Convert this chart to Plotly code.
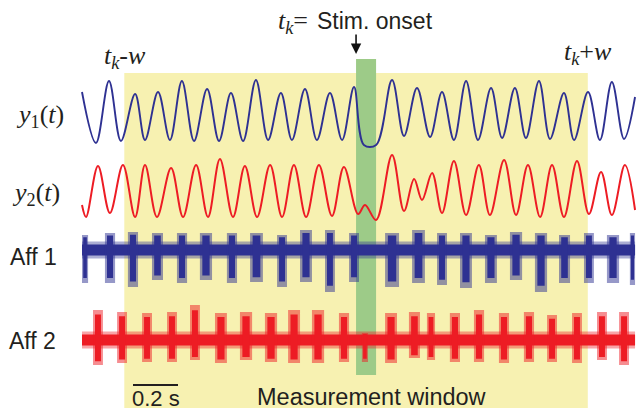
import plotly.graph_objects as go

# ---------------- data (time in ms, amplitudes in arbitrary units) ----------------
# y1(t): extrema of the blue oscillation
y1_t = [0, 62, 120, 173, 236, 280, 338, 391, 444, 498, 556, 609, 662, 716, 773, 827, 884, 933, 991, 1044,
        1102, 1156, 1209, 1253, 1307, 1378, 1431, 1489, 1547, 1600, 1653, 1707, 1760, 1818, 1867, 1924, 1973,
        2031, 2080, 2142, 2187, 2249, 2302, 2355, 2409, 2458]
y1_v = [20, -31, 31, -29, 18, -28, 20, -28, 31, -29, 23, -29, 19, -29, 32, -28, 19, -28, 23, -28,
        19, -28, 25, -33, -33, 32, -24, 24, -25, 20, -28, 31, -28, 24, -26, 24, -26,
        31, -27, 19, -28, 20, -28, 30, -27, 15]

# y2(t): extrema of the red oscillation
y2_t = [0, 18, 71, 124, 182, 236, 280, 333, 396, 449, 507, 560, 613, 671, 724, 778, 836, 889, 942, 996,
        1053, 1111, 1164, 1227, 1258, 1307, 1378, 1431, 1476, 1511, 1556, 1600, 1653, 1707, 1764, 1813,
        1876, 1929, 1982, 2036, 2089, 2142, 2200, 2253, 2307, 2355, 2413, 2458]
y2_v = [-14, -26, 25, -22, 26, -26, 26, -26, 23, -26, 26, -26, 32, -26, 25, -26, 26, -26, 26, -26,
        26, -25, 24, -23, -14, -29, 36, -20, 12, -9, 18, -22, 30, -24, 26, -24,
        31, -24, 26, -26, 26, -26, 30, -23, 19, -24, 26, -19]

# Afferent recordings: background noise amplitude and spike bursts
record_end = 2458
aff_noise_core = 5.5
aff_noise_fringe = 8.5

aff1_start = [0, 102, 204, 311, 422, 524, 644, 747, 867, 969, 1080, 1187, 1347, 1467, 1578, 1680, 1791,
              1902, 2013, 2120, 2231, 2333, 2435]
aff1_end = [27, 147, 249, 360, 467, 578, 689, 804, 911, 1022, 1124, 1231, 1409, 1524, 1622, 1733, 1844,
            1956, 2067, 2169, 2275, 2387, 2458]
aff1_up = [15, 17, 18, 17, 17, 17, 17, 17, 15, 20, 20, 17, 17, 20, 17, 17, 15, 18, 17, 15, 17, 15, 17]
aff1_down = [-33, -33, -37, -30, -33, -30, -33, -32, -37, -32, -42, -32, -37, -33, -35, -38, -33, -30,
             -42, -33, -33, -33, -35]

aff2_start = [49, 156, 267, 378, 480, 591, 702, 813, 916, 1022, 1142, 1244, 1347, 1453, 1533, 1635, 1742,
              1853, 1964, 2067, 2178, 2289, 2387]
aff2_end = [93, 200, 311, 422, 524, 644, 756, 867, 969, 1076, 1187, 1271, 1400, 1502, 1569, 1680, 1787,
            1898, 2009, 2111, 2222, 2333, 2431]
aff2_up = [30, 28, 27, 28, 35, 27, 28, 27, 30, 30, 27, 7, 27, 28, 27, 27, 30, 27, 28, 25, 27, 28, 28]
aff2_down = [-25, -23, -22, -22, -20, -23, -20, -22, -23, -23, -22, -22, -23, -18, -20, -22, -22, -23,
             -22, -22, -23, -20, -25]

stim_onset = 1218      # t_k
stim_duration = 89
window_half = 1030     # w
scale_bar_ms = 200

# ---------------- layout helpers ----------------
W, H = 637, 411
PX_PER_MS = 0.225
T0_PX = 82


def X(px):
    return (px - T0_PX) / PX_PER_MS


def Y(py):
    return H - py


BLUE = "#2E3192"
RED = "#ED1C24"
BLUE_LIGHT = "rgba(46,49,146,0.5)"
RED_LIGHT = "rgba(237,28,36,0.5)"
BLUE_FAINT = "rgba(46,49,146,0.4)"
RED_FAINT = "rgba(237,28,36,0.4)"
TXT = "#231F20"
SANS = "Liberation Sans, Arial, sans-serif"
SERIF = "Liberation Serif, Times New Roman, serif"

base_y1, base_y2, base_a1, base_a2 = Y(112), Y(191), Y(250), Y(340)

fig = go.Figure()

# oscillations
fig.add_trace(go.Scatter(x=y1_t, y=[base_y1 + v for v in y1_v], mode="lines",
                         line=dict(color=BLUE, width=1.9, shape="spline", smoothing=1.0),
                         hoverinfo="skip"))
fig.add_trace(go.Scatter(x=y2_t, y=[base_y2 + v for v in y2_v], mode="lines",
                         line=dict(color=RED, width=2.0, shape="spline", smoothing=1.0),
                         hoverinfo="skip"))


def rects(starts, ends, ups, downs, base, wfrac=1.0, hfrac=1.0):
    xs, ys = [], []
    for a, b, u, d in zip(starts, ends, ups, downs):
        m = (a + b) / 2.0
        hw = (b - a) / 2.0 * wfrac
        lo, hi = base + d * hfrac, base + u * hfrac
        xs += [m - hw, m + hw, m + hw, m - hw, m - hw, None]
        ys += [lo, lo, hi, hi, lo, None]
    return xs, ys


def add_aff(starts, ends, ups, downs, base, col, col_light, col_faint):
    # noise band
    for amp, c in ((aff_noise_fringe, col_faint), (aff_noise_core, col)):
        xs, ys = rects([0], [record_end], [amp], [-amp], base)
        fig.add_trace(go.Scatter(x=xs, y=ys, mode="lines", fill="toself", fillcolor=c,
                                 line=dict(width=0), hoverinfo="skip"))
    # bursts
    xs, ys = rects(starts, ends, ups, downs, base)
    fig.add_trace(go.Scatter(x=xs, y=ys, mode="lines", fill="toself", fillcolor=col_light,
                             line=dict(width=0), hoverinfo="skip"))
    xs, ys = rects(starts, ends, ups, downs, base, wfrac=0.6, hfrac=0.85)
    fig.add_trace(go.Scatter(x=xs, y=ys, mode="lines", fill="toself", fillcolor=col,
                             line=dict(width=0), hoverinfo="skip"))


add_aff(aff1_start, aff1_end, aff1_up, aff1_down, base_a1, BLUE, BLUE_LIGHT, BLUE_FAINT)
add_aff(aff2_start, aff2_end, aff2_up, aff2_down, base_a2, RED, RED_LIGHT, RED_FAINT)

shapes = [
    dict(type="rect", xref="x", yref="y", layer="below",
         x0=stim_onset - window_half, x1=stim_onset + window_half, y0=Y(408), y1=Y(73),
         fillcolor="#F7F1B1", line=dict(width=0)),
    dict(type="rect", xref="x", yref="y", layer="below",
         x0=stim_onset, x1=stim_onset + stim_duration, y0=Y(375), y1=Y(59),
         fillcolor="#9DCB88", line=dict(width=0)),
    dict(type="line", xref="x", yref="y", x0=X(133), x1=X(133) + scale_bar_ms, y0=Y(385), y1=Y(385),
         line=dict(color=TXT, width=2)),
]


def ann(text, px, py, family, size, anchor="left"):
    return dict(text=text, x=X(px), y=Y(py), xref="x", yref="y", xanchor=anchor, yanchor="middle",
                showarrow=False, borderpad=0, font=dict(family=family, size=size, color=TXT))


annotations = [
    ann("<i>t</i><sub><i>k</i></sub>=", 309, 22, SERIF, 26, anchor="right"),
    ann("Stim. onset", 316, 21, SANS, 23),
    ann("<i>t</i><sub><i>k</i></sub>-<i>w</i>", 103, 57, SERIF, 26),
    ann("<i>t</i><sub><i>k</i></sub>+<i>w</i>", 563, 53, SERIF, 26),
    ann("<i>y</i><sub>1</sub>(<i>t</i>)", 15, 116, SERIF, 26),
    ann("<i>y</i><sub>2</sub>(<i>t</i>)", 11, 194, SERIF, 26),
    ann("Aff 1", 9, 257, SANS, 23),
    ann("Aff 2", 8, 341, SANS, 23),
    ann("0.2 s", 131, 398.5, SANS, 22),
    ann("Measurement window", 256, 397, SANS, 23.5),
    dict(text="", x=stim_onset, y=Y(54), ax=stim_onset, ay=Y(33), xref="x", yref="y",
         axref="x", ayref="y", showarrow=True, arrowhead=2, arrowsize=1.3, arrowwidth=1.6,
         arrowcolor="#111111"),
]

fig.update_layout(
    width=W, height=H, margin=dict(l=0, r=0, t=0, b=0),
    paper_bgcolor="white", plot_bgcolor="white", showlegend=False,
    xaxis=dict(range=[X(0), X(W)], visible=False, fixedrange=True),
    yaxis=dict(range=[0, H], visible=False, fixedrange=True),
    shapes=shapes, annotations=annotations,
)

fig.write_html("out.html")
